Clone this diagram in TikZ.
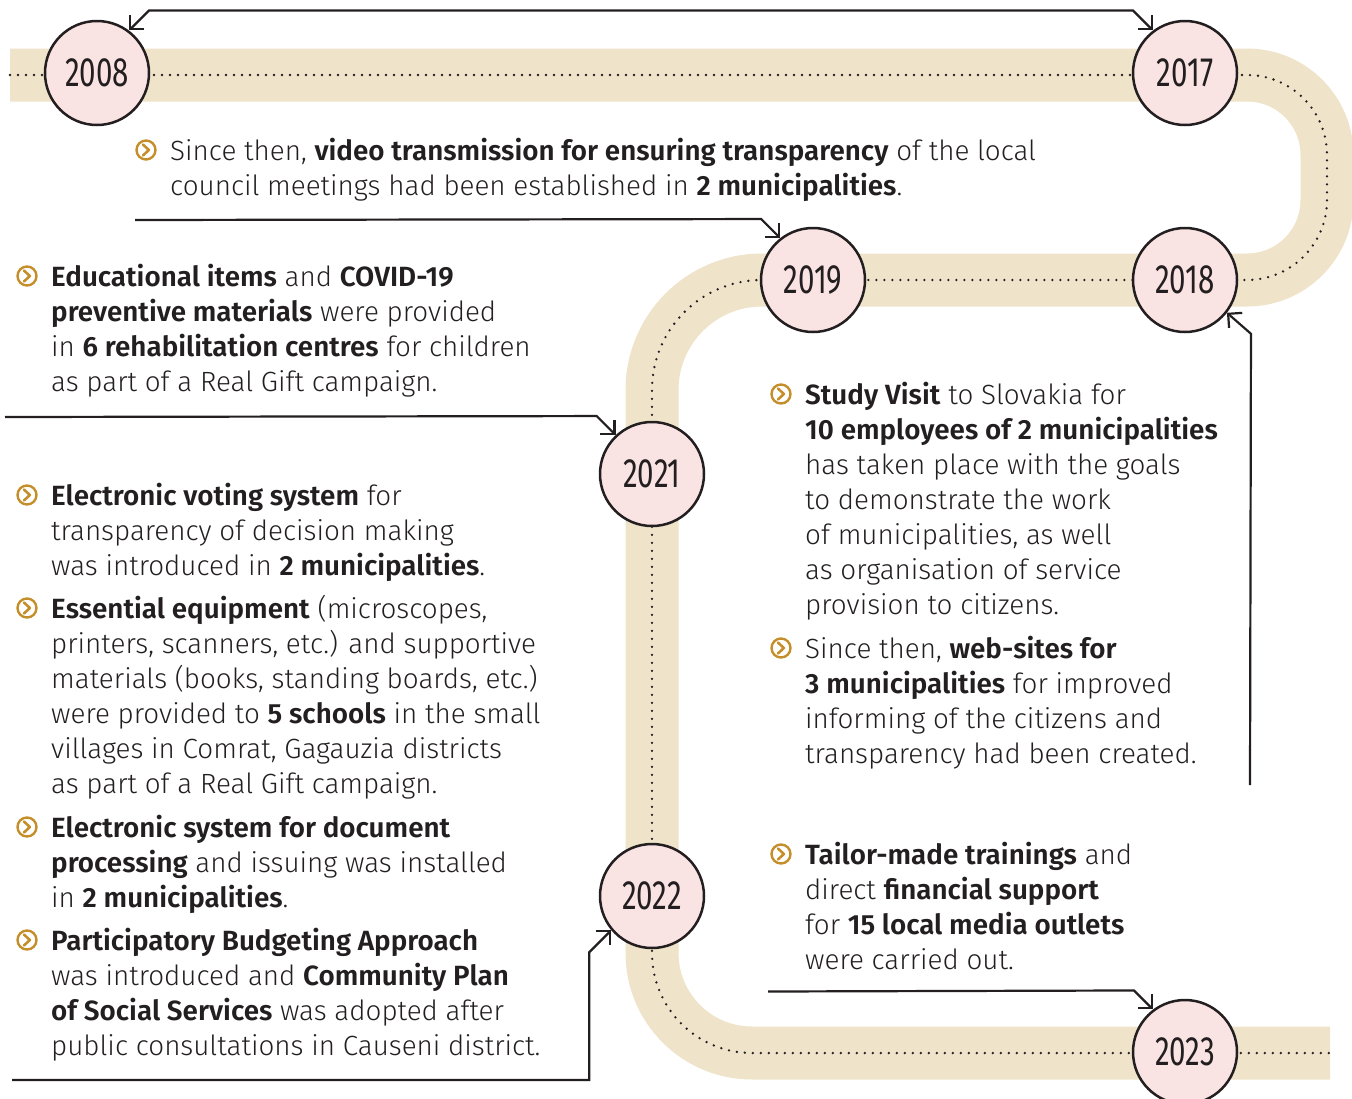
\documentclass[tikz,border=0pt]{standalone}
\usepackage{fontspec}
\setmainfont{Fira Sans}[UprightFont={* Light}, BoldFont={* SemiBold}]
\newfontfamily\yearfont{Fira Sans}[FakeStretch=0.72]
\usetikzlibrary{arrows.meta}
\usetikzlibrary{calc}

\definecolor{band}{RGB}{239,227,202}
\definecolor{rose}{RGB}{250,227,227}
\definecolor{gold}{RGB}{196,142,42}
\definecolor{ink}{RGB}{35,31,32}

% lineas de texto con la base en la primera linea
\newcommand{\lines}[1]{\begin{tabular}[t]{@{}l@{}}#1\end{tabular}}

\begin{document}
\begin{tikzpicture}[
        x=1pt, y=-1pt,
        font=\fontsize{27.8}{35.1}\selectfont,
        >={Straight Barb[length=10pt,width=20pt]},
        road/.style={line width=53pt, color=band},
        trail/.style={line width=2.6pt, dash pattern=on 0pt off 8pt, line cap=round, color=ink},
        year/.style={circle, draw=ink, line width=2.5pt, fill=rose, minimum size=104pt, inner sep=0pt,
            text=ink, font=\yearfont\fontsize{41}{41}\selectfont},
        link/.style={->, line width=2.2pt, color=ink},
        item/.style={anchor=base west, inner sep=0pt, text=ink},
        bul/.pic={
            \draw[gold, line width=2.4pt] (0,0) circle (9.5pt);
            \draw[gold, line width=2.6pt, line cap=round, line join=round] (-3,-5.5) -- (2.8,0) -- (-3,5.5);
        }
    ]
        \useasboundingbox (0,0) rectangle (1352,1098);

        % --- Camino de fondo y linea punteada ---
        \draw[road] (10,75) [rounded corners=80pt] -- (1327,75) -- (1327,280)
            [rounded corners=110pt] -- (652,280) [rounded corners=100pt] -- (652,1053) -- (1330,1053);
        \draw[trail] (10,75) [rounded corners=80pt] -- (1327,75) -- (1327,280)
            [rounded corners=110pt] -- (652,280) [rounded corners=100pt] -- (652,1053) -- (1330,1053);

        % --- Años ---
        \node[year] (y2008) at (97,73) {2008};
        \node[year] (y2017) at (1185,73) {2017};
        \node[year] (y2018) at (1185,280) {2018};
        \node[year] (y2019) at (813,280) {2019};
        \node[year] (y2021) at (652,474) {2021};
        \node[year] (y2022) at (652,896) {2022};
        \node[year] (y2023) at (1185,1052) {2023};

        % --- Flechas ---
        \draw[link, <->] (y2008.53) -- ++(20,-20) -- ($(y2017.127)+(-20,-20)$) -- (y2017.127);

        \coordinate (s2019) at (135,220);
        \draw[link] (s2019) -- ($(y2019.128)+(-19,-19)$) -- (y2019.128);

        \coordinate (s2021) at (5,417);
        \draw[link] (s2021) -- ($(y2021.133)+(-19,-19)$) -- (y2021.133);

        \coordinate (s2018) at (1250,785);
        \draw[link] (s2018) -- ($(y2018.-38)+(24,21)$) -- (y2018.-38);

        \coordinate (s2022) at (12,1080);
        \draw[link] (s2022) -| ($(y2022.220)+(-22,22)$) -- (y2022.220);

        \coordinate (s2023) at (768,991.5);
        \draw[link] (s2023) -- ($(y2023.127)+(-19,-19)$) -- (y2023.127);

        % --- Textos ---
        \node[item] (txA) at (170,160) {\lines{Since then, \textbf{video transmission for ensuring transparency} of the local\\
            council meetings had been established in \textbf{2 municipalities}.}};
        \node[item] (txB) at (51,286) {\lines{\textbf{Educational items} and \textbf{COVID-19}\\
            \textbf{preventive materials} were provided\\
            in \textbf{6 rehabilitation centres} for children\\
            as part of a Real Gift campaign.}};
        \node[item] (txC) at (51,505) {\lines{\textbf{Electronic voting system} for\\
            transparency of decision making\\
            was introduced in \textbf{2 municipalities}.}};
        \node[item] (txD) at (51,618) {\lines{\textbf{Essential equipment} (microscopes,\\
            printers, scanners, etc.) and supportive\\
            materials (books, standing boards, etc.)\\
            were provided to \textbf{5 schools} in the small\\
            villages in Comrat, Gagauzia districts\\
            as part of a Real Gift campaign.}};
        \node[item] (txE) at (51,837) {\lines{\textbf{Electronic system for document}\\
            \textbf{processing} and issuing was installed\\
            in \textbf{2 municipalities}.}};
        \node[item] (txF) at (51,950) {\lines{\textbf{Participatory Budgeting Approach}\\
            was introduced and \textbf{Community Plan}\\
            \textbf{of Social Services} was adopted after\\
            public consultations in Causeni district.}};
        \node[item] (txG) at (805,404) {\lines{\textbf{Study Visit} to Slovakia for\\
            \textbf{10 employees of 2 municipalities}\\
            has taken place with the goals\\
            to demonstrate the work\\
            of municipalities, as well\\
            as organisation of service\\
            provision to citizens.}};
        \node[item] (txH) at (805,658) {\lines{Since then, \textbf{web-sites for}\\
            \textbf{3 municipalities} for improved\\
            informing of the citizens and\\
            transparency had been created.}};
        \node[item] (txI) at (805,864) {\lines{\textbf{Tailor-made trainings} and\\
            direct \textbf{financial support}\\
            for \textbf{15 local media outlets}\\
            were carried out.}};

        % --- Viñetas ---
        \foreach \t in {txA,txB,txC,txD,txE,txF,txG,txH,txI}
            \pic at ([shift={(-24,-10)}]\t.base west) {bul};
    \end{tikzpicture}
\end{document}
